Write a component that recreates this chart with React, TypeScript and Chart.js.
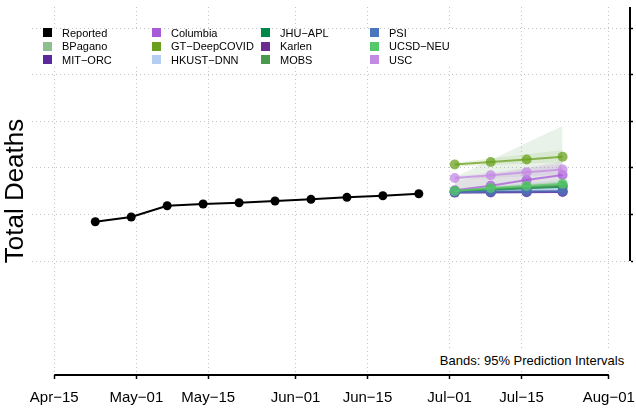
import { useEffect, useRef } from 'react';
import { Chart, registerables } from 'chart.js';

Chart.register(...registerables);

// ---- data ----
const xTickDays = [0, 16, 30, 47, 61, 77, 91, 108]; // days since Apr-15
const xTickLabels = ['Apr−15', 'May−01', 'May−15', 'Jun−01', 'Jun−15', 'Jul−01', 'Jul−15', 'Aug−01'];
const yTickValues = [4000, 5000, 6000, 7000, 8000, 9000];

const reportedDays = [8, 15, 22, 29, 36, 43, 50, 57, 64, 71];
const reportedDeaths = [4843, 4944, 5187, 5223, 5251, 5288, 5324, 5367, 5401, 5444];

const forecastDays = [78, 85, 92, 99];

const modelNames = ['BPagano', 'MIT−ORC', 'Columbia', 'GT−DeepCOVID', 'HKUST−DNN', 'JHU−APL', 'Karlen', 'MOBS', 'PSI', 'UCSD−NEU', 'USC'];
const modelColors = ['143,191,143', '90,42,156', '168,91,216', '106,160,30', '181,205,240', '0,135,74', '107,44,145', '74,154,78', '74,118,190', '85,200,106', '195,138,228'];

const bpaganoMedian = [5495, 5535, 5570, 5605];
const bpaganoLower = [5460, 5475, 5490, 5500];
const bpaganoUpper = [5800, 6170, 6540, 6900];

const mitMedian = [5468, 5472, 5476, 5480];
const mitLower = [5455, 5458, 5460, 5462];
const mitUpper = [5480, 5488, 5494, 5500];

const columbiaMedian = [5517, 5616, 5738, 5845];
const columbiaLower = [5470, 5520, 5580, 5630];
const columbiaUpper = [5700, 5850, 6000, 6140];

const gtMedian = [6071, 6124, 6178, 6238];
const gtLower = [6030, 6060, 6090, 6120];
const gtUpper = [6110, 6200, 6290, 6380];

const hkustMedian = [5485, 5510, 5530, 5550];
const hkustLower = [5470, 5485, 5495, 5505];
const hkustUpper = [5500, 5535, 5565, 5595];

const jhuMedian = [5490, 5525, 5560, 5595];
const jhuLower = [5475, 5495, 5515, 5535];
const jhuUpper = [5510, 5560, 5610, 5660];

const karlenMedian = [5475, 5480, 5486, 5492];
const karlenLower = [5460, 5462, 5464, 5466];
const karlenUpper = [5490, 5500, 5510, 5520];

const mobsMedian = [5500, 5545, 5585, 5625];
const mobsLower = [5480, 5505, 5525, 5545];
const mobsUpper = [5520, 5585, 5645, 5705];

const psiMedian = [5478, 5484, 5490, 5496];
const psiLower = [5465, 5468, 5470, 5472];
const psiUpper = [5492, 5500, 5510, 5520];

const ucsdMedian = [5505, 5565, 5610, 5660];
const ucsdLower = [5490, 5530, 5560, 5590];
const ucsdUpper = [5520, 5600, 5670, 5740];

const uscMedian = [5781, 5839, 5903, 5964];
const uscLower = [5740, 5780, 5820, 5860];
const uscUpper = [5820, 5900, 5990, 6080];

const medians = [bpaganoMedian, mitMedian, columbiaMedian, gtMedian, hkustMedian, jhuMedian, karlenMedian, mobsMedian, psiMedian, ucsdMedian, uscMedian];
const lowers = [bpaganoLower, mitLower, columbiaLower, gtLower, hkustLower, jhuLower, karlenLower, mobsLower, psiLower, ucsdLower, uscLower];
const uppers = [bpaganoUpper, mitUpper, columbiaUpper, gtUpper, hkustUpper, jhuUpper, karlenUpper, mobsUpper, psiUpper, ucsdUpper, uscUpper];

const legendNames = ['Reported', ...modelNames];
const legendColors = ['0,0,0', ...modelColors];

const FONT = "'Liberation Sans', Arial, Helvetica, sans-serif";

const toPts = (xs: number[], ys: number[]) => xs.map((x, i) => ({ x, y: ys[i] }));

const rAxes = {
  id: 'rAxes',
  afterDraw(chart: any) {
    const { ctx, chartArea, scales } = chart;
    const x = scales.x;
    const y = scales.y;
    ctx.save();
    ctx.strokeStyle = '#000';
    ctx.lineWidth = 2;
    ctx.beginPath();
    const b = chartArea.bottom;
    ctx.moveTo(x.getPixelForValue(xTickDays[0]), b);
    ctx.lineTo(x.getPixelForValue(xTickDays[xTickDays.length - 1]), b);
    const r = chartArea.right - 1;
    ctx.moveTo(r, chartArea.top);
    ctx.lineTo(r, y.getPixelForValue(yTickValues[0]));
    ctx.stroke();
    ctx.restore();
  },
};

export default function App() {
  const ref = useRef<HTMLCanvasElement>(null);

  useEffect(() => {
    if (!ref.current) return;
    const datasets: any[] = [];
    modelNames.forEach((name, i) => {
      const c = modelColors[i];
      const bandAlpha = i === 0 ? 0.2 : 0.14;
      datasets.push({
        label: name + ' upper',
        data: toPts(forecastDays, uppers[i]),
        borderWidth: 0,
        borderColor: 'rgba(0,0,0,0)',
        pointRadius: 0,
        fill: '+1',
        backgroundColor: `rgba(${c},${bandAlpha})`,
        order: 100 + i,
        yAxisID: 'y',
      });
      datasets.push({
        label: name + ' lower',
        data: toPts(forecastDays, lowers[i]),
        borderWidth: 0,
        borderColor: 'rgba(0,0,0,0)',
        pointRadius: 0,
        fill: false,
        order: 100 + i,
        yAxisID: 'y',
      });
    });
    modelNames.forEach((name, i) => {
      const c = modelColors[i];
      datasets.push({
        label: name,
        data: toPts(forecastDays, medians[i]),
        borderColor: `rgba(${c},0.75)`,
        borderWidth: 2,
        pointRadius: 5,
        pointBackgroundColor: `rgba(${c},0.75)`,
        pointBorderWidth: 0,
        fill: false,
        order: modelNames.length - i,
        yAxisID: 'y',
      });
    });
    datasets.push({
      label: 'Reported',
      data: toPts(reportedDays, reportedDeaths),
      borderColor: '#000',
      borderWidth: 2,
      pointRadius: 4.5,
      pointBackgroundColor: '#000',
      pointBorderWidth: 0,
      fill: false,
      order: 0,
      yAxisID: 'y',
    });

    const yMin = 1554;
    const yMax = 9451;
    const gridColor = '#c4c4c4';

    const chart = new Chart(ref.current, {
      type: 'line',
      data: { datasets },
      plugins: [rAxes],
      options: {
        animation: false,
        responsive: false,
        layout: { padding: { top: 7, left: 0, right: 0, bottom: 0 } },
        elements: { line: { tension: 0 } },
        plugins: { legend: { display: false }, tooltip: { enabled: false } },
        scales: {
          x: {
            type: 'linear',
            min: -4.32,
            max: 112.32,
            afterBuildTicks: (s: any) => {
              s.ticks = xTickDays.map((v) => ({ value: v }));
            },
            afterFit: (s: any) => {
              s.height = 35;
              s.paddingLeft = 0;
              s.paddingRight = 0;
            },
            ticks: {
              autoSkip: false,
              maxRotation: 0,
              padding: 10,
              color: '#000',
              font: { family: FONT, size: 15 },
              callback: (_v: any, idx: number) => xTickLabels[idx],
            },
            grid: {
              color: gridColor,
              lineWidth: 1,
              tickColor: '#000',
              tickWidth: 1.5,
              tickLength: 4,
            },
            border: { display: false, dash: [1, 3] },
          },
          y: {
            type: 'linear',
            position: 'right',
            min: yMin,
            max: yMax,
            afterBuildTicks: (s: any) => {
              s.ticks = yTickValues.map((v) => ({ value: v }));
            },
            afterFit: (s: any) => {
              s.width = 2;
              s.paddingTop = 0;
              s.paddingBottom = 0;
            },
            ticks: { display: false },
            grid: {
              color: gridColor,
              lineWidth: 1,
              tickColor: '#000',
              tickWidth: 1.5,
              tickLength: 2,
            },
            border: { display: false, dash: [1, 3] },
          },
          yL: {
            type: 'linear',
            position: 'left',
            min: yMin,
            max: yMax,
            afterFit: (s: any) => {
              s.width = 32;
              s.paddingTop = 0;
              s.paddingBottom = 0;
            },
            ticks: { display: false },
            grid: { display: false },
            border: { display: false },
            title: {
              display: true,
              text: 'Total Deaths',
              color: '#000',
              font: { family: FONT, size: 26 },
              padding: 0,
            },
          },
        },
      } as any,
    });
    return () => chart.destroy();
  }, []);

  const rows = 3;
  return (
    <div style={{ position: 'fixed', left: 0, top: 0, width: 636, height: 410, background: '#fff', overflow: 'hidden' }}>
      <canvas ref={ref} width={636} height={410} style={{ position: 'absolute', left: 0, top: 0 }} />
      <div style={{ position: 'absolute', left: 33, top: 29, width: 417, height: 36, background: '#fff' }} />
      {legendNames.map((name, i) => {
        const col = Math.floor(i / rows);
        const row = i % rows;
        const cx = 43 + col * 109;
        const cy = 32.5 + row * 13.5;
        return (
          <div key={name} style={{ position: 'absolute', left: cx, top: cy - 7, height: 14, display: 'flex', alignItems: 'center', whiteSpace: 'nowrap' }}>
            <div style={{ width: 9, height: 9, background: `rgb(${legendColors[i]})`, marginRight: 10 }} />
            <span style={{ fontFamily: FONT, fontSize: 11, color: '#000', lineHeight: '14px' }}>{name}</span>
          </div>
        );
      })}
      <div style={{ position: 'absolute', left: 434, top: 350, width: 196, height: 20, background: '#fff', display: 'flex', alignItems: 'center', justifyContent: 'center', fontFamily: FONT, fontSize: 13, color: '#000', whiteSpace: 'nowrap' }}>
        Bands: 95% Prediction Intervals
      </div>
    </div>
  );
}
